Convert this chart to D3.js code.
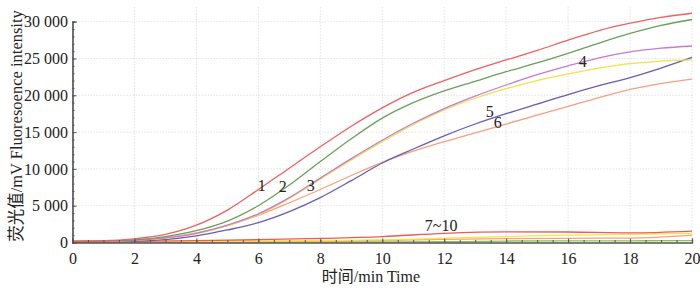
<!DOCTYPE html>
<html>
<head>
<meta charset="utf-8">
<script src="https://cdn.jsdelivr.net/npm/d3@7"></script>
<style>
  body { margin: 0; background: #fff; }
  text { font-family: "Liberation Serif", "Noto Sans CJK SC", serif; fill: #222; }
</style>
</head>
<body>
<svg id="fig" width="700" height="290"></svg>
<script>
// time points (min)
const times = d3.range(0, 21, 1);
const timesLow = d3.range(0, 21, 2);

// fluorescence curves, one value per minute
const curve1 = [200, 250, 500, 1100, 2350, 4400, 7200, 10100, 13000, 15800, 18300, 20400, 22000, 23500, 24800, 26100, 27500, 28800, 29800, 30600, 31150];
const curve2 = [150, 200, 350, 800, 1600, 2900, 5000, 7800, 11000, 14100, 16900, 19000, 20600, 21900, 23200, 24400, 25700, 27100, 28400, 29500, 30300];
const curve3 = [150, 180, 300, 620, 1250, 2350, 3900, 6100, 8750, 11400, 13900, 16200, 18200, 19900, 21400, 22800, 24000, 25100, 25900, 26400, 26700];
const curve4 = [140, 170, 290, 600, 1200, 2300, 3800, 6000, 8600, 11200, 13700, 16000, 18000, 19600, 20900, 22000, 22900, 23700, 24300, 24650, 24800];
const curve5 = [100, 120, 200, 400, 900, 1700, 2700, 4200, 6100, 8400, 10800, 12700, 14500, 16100, 17500, 18800, 20100, 21300, 22400, 23700, 25150];
const curve6 = [150, 180, 300, 650, 1300, 2300, 3700, 5400, 7200, 9100, 10900, 12400, 13700, 14900, 16100, 17300, 18500, 19700, 20800, 21600, 22200];
// negative samples 7~10, one value every 2 min
const curve7 = [100, 150, 250, 380, 550, 800, 1250, 1450, 1430, 1300, 1550];
const curve8 = [100, 120, 150, 200, 270, 350, 580, 800, 1000, 1100, 1250];
const curve9 = [80, 100, 120, 150, 200, 280, 420, 520, 570, 600, 1000];
const curve10 = [50, 55, 60, 70, 80, 90, 100, 200, 220, 230, 250];

const xTicks = d3.range(0, 21, 2);
const yTicks = [0, 5000, 10000, 15000, 20000, 25000, 30000];

// curve labels: text, time, value
const labelText = ["1", "2", "3", "4", "5", "6", "7~10"];
const labelT = [6.11, 6.79, 7.69, 16.47, 13.47, 13.73, 11.9];
const labelV = [7800, 7550, 7800, 24550, 17750, 16250, 2250];

const series = [
    {t: timesLow, v: curve10, color: "#8fc05a"},
    {t: timesLow, v: curve9, color: "#f7a07f"},
    {t: timesLow, v: curve8, color: "#f2e64a"},
    {t: timesLow, v: curve7, color: "#ee5a5a"},
    {t: times, v: curve6, color: "#f7a07f"},
    {t: times, v: curve5, color: "#6a5cb6"},
    {t: times, v: curve4, color: "#efe347"},
    {t: times, v: curve3, color: "#c77ad0"},
    {t: times, v: curve2, color: "#6aa057"},
    {t: times, v: curve1, color: "#f06060"}
];

const svg = d3.select("#fig");
const x = d3.scaleLinear().domain([0, 20]).range([72.5, 692]);
const y = d3.scaleLinear().domain([0, 30000]).range([242.5, 21.7]);
const plotTop = 7;

// grid
const grid = svg.append("g").attr("stroke", "#dcdcdc").attr("stroke-width", 0.8).attr("stroke-dasharray", "1.5,1.5");
grid.selectAll("line.v").data(xTicks.slice(1)).enter().append("line")
    .attr("x1", d => x(d)).attr("x2", d => x(d))
    .attr("y1", y(0)).attr("y2", plotTop);
grid.selectAll("line.h").data(yTicks.slice(1)).enter().append("line")
    .attr("x1", x(0)).attr("x2", x(20))
    .attr("y1", d => y(d)).attr("y2", d => y(d));

// curves
const line = d3.line().curve(d3.curveMonotoneX);
svg.append("g").selectAll("path").data(series).enter().append("path")
    .attr("d", s => line(s.t.map((t, i) => [x(t), y(s.v[i])])))
    .attr("fill", "none")
    .attr("stroke", s => s.color)
    .attr("stroke-width", 1.3);

// axes
const fmt = v => d3.format(",")(v).replace(/,/g, " ");
svg.append("g").attr("transform", "translate(" + x(0) + ",0)")
    .call(d3.axisLeft(y).tickValues(yTicks).tickSize(-4).tickPadding(4.5).tickFormat(fmt));
svg.append("g").attr("transform", "translate(" + x(0) + ",0)")
    .call(d3.axisLeft(y).tickValues(d3.range(0, 30001, 1000)).tickSize(-2).tickFormat(""));
svg.append("g").attr("transform", "translate(0," + y(0) + ")")
    .call(d3.axisBottom(x).tickValues(xTicks).tickSize(-4).tickPadding(10).tickFormat(d3.format("d")));
svg.append("g").attr("transform", "translate(0," + y(0) + ")")
    .call(d3.axisBottom(x).tickValues(d3.range(0, 20.01, 0.5)).tickSize(-2.5).tickFormat(""));

svg.selectAll(".domain").attr("stroke", "#555").attr("stroke-width", 1.2);
svg.selectAll(".tick line").attr("stroke", "#555");
svg.selectAll(".tick text").attr("font-size", "16px").attr("fill", "#222")
    .style("font-family", "'Liberation Serif', serif");

// curve labels
svg.append("g").selectAll("text").data(labelText).enter().append("text")
    .attr("x", (d, i) => x(labelT[i]))
    .attr("y", (d, i) => y(labelV[i]))
    .attr("text-anchor", "middle")
    .attr("dominant-baseline", "central")
    .attr("font-size", "16px")
    .text(d => d);

// axis titles
svg.append("text")
    .attr("x", 371).attr("y", 282)
    .attr("text-anchor", "middle")
    .attr("font-size", "16px")
    .text("时间/min Time");

svg.append("text")
    .attr("transform", "translate(22,126) rotate(-90)")
    .attr("text-anchor", "middle")
    .attr("font-size", "16.5px")
    .text("荧光值/mV  Fluoresoence intensity");
</script>
</body>
</html>
